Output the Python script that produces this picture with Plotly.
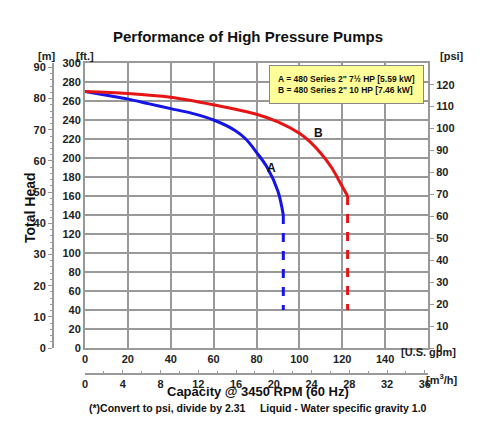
import plotly.graph_objects as go

# Pump curves: capacity [U.S. gpm] vs total head [ft.]
gpm_a = [0, 10, 20, 30, 40, 50, 60, 70, 75, 80, 85, 90, 92.5]
head_a = [270, 266, 262, 257, 252, 247, 240, 229, 220, 206, 190, 165, 140]
gpm_b = [0, 20, 40, 60, 80, 90, 100, 105, 110, 115, 120, 122.5]
head_b = [270, 268, 264, 256, 246, 238, 226, 217, 205, 190, 170, 160]
dash_a = [[92.5, 92.5], [140, 40]]
dash_b = [[122.5, 122.5], [160, 40]]

ft_ticks = list(range(0, 301, 20))
m_ticks = list(range(0, 91, 10))
psi_ticks = list(range(0, 131, 10))
gpm_ticks = list(range(0, 141, 20))
m3h_ticks = list(range(0, 37, 4))

BLUE = 'rgb(20, 20, 230)'
RED = 'rgb(230, 20, 20)'
FONT = 'Liberation Sans'
bold = dict(family=FONT, size=11, color='#222', weight='bold')

# plot region in pixels: x 30..420, y 55..372
L, R, T, B = 30, 420, 55, 372


def px(x):
    return (x - L) / (R - L)


def py(y):
    return (B - y) / (B - T)


fig = go.Figure()
fig.add_trace(go.Scatter(x=gpm_a, y=head_a, mode='lines', line=dict(color=BLUE, width=3, shape='spline')))
fig.add_trace(go.Scatter(x=gpm_b, y=head_b, mode='lines', line=dict(color=RED, width=3, shape='spline')))
fig.add_trace(go.Scatter(x=dash_a[0], y=dash_a[1], mode='lines', line=dict(color=BLUE, width=3, dash='dash')))
fig.add_trace(go.Scatter(x=dash_b[0], y=dash_b[1], mode='lines', line=dict(color=RED, width=3, dash='dash')))
# invisible traces to attach secondary axes
fig.add_trace(go.Scatter(x=[0], y=[0], yaxis='y2', mode='markers', marker=dict(opacity=0), hoverinfo='skip'))
fig.add_trace(go.Scatter(x=[0], y=[0], yaxis='y3', mode='markers', marker=dict(opacity=0), hoverinfo='skip'))
fig.add_trace(go.Scatter(x=[0], y=[0], xaxis='x2', mode='markers', marker=dict(opacity=0), hoverinfo='skip'))

axcol = '#999'
xdom = [px(77), 1]
fig.update_layout(
    width=480, height=426, showlegend=False,
    paper_bgcolor='white', plot_bgcolor='white',
    margin=dict(l=L, r=480 - R, t=T, b=426 - B, autoexpand=False),
    font=dict(family=FONT),
    xaxis=dict(domain=xdom, range=[0, 160], tickvals=gpm_ticks, tickfont=bold, automargin=False,
               showgrid=True, gridcolor=axcol, gridwidth=1.5, showline=True, linecolor=axcol, linewidth=2,
               mirror=True, ticks='', zeroline=False),
    yaxis=dict(domain=[py(340), 1], range=[0, 300], tickvals=ft_ticks, tickfont=bold, automargin=False,
               showgrid=True, gridcolor=axcol, gridwidth=1.5, showline=True, linecolor=axcol, linewidth=2,
               mirror=True, ticks='', zeroline=False),
    yaxis2=dict(overlaying='y', anchor='free', position=px(45), side='left', automargin=False,
                range=[0, 300 / 3.281], tickvals=m_ticks, tickfont=bold, showgrid=False,
                showline=True, linecolor=axcol, linewidth=2, ticks='outside', ticklen=4, tickcolor=axcol,
                minor=dict(dtick=2, ticks='outside', ticklen=2, tickcolor=axcol), zeroline=False),
    yaxis3=dict(overlaying='y', side='right', anchor='x', range=[0, 300 / 2.31], tickvals=psi_ticks,
                automargin=False, tickfont=bold, showgrid=False, ticks='outside', ticklen=5,
                tickcolor=axcol, zeroline=False),
    xaxis2=dict(overlaying='x', anchor='free', position=py(366), side='bottom', domain=xdom,
                automargin=False, range=[0, 160 / 4.4029], tickvals=m3h_ticks, tickfont=bold,
                showgrid=False, showline=True, linecolor=axcol, linewidth=2, ticks='inside', ticklen=3,
                tickcolor=axcol, minor=dict(dtick=2, ticks='inside', ticklen=2, tickcolor=axcol),
                zeroline=False),
)


def label(txt, x, y, **kw):
    opts = dict(text=txt, x=px(x), y=py(y), xref='paper', yref='paper', showarrow=False, font=bold)
    opts.update(kw)
    fig.add_annotation(**opts)


label('Performance of High Pressure Pumps', 240, 18,
      font=dict(family=FONT, size=15, color='#111', weight='bold'))
label('[m]', 28, 40)
label('[ft.]', 66, 40)
label('[psi]', 458, 40)
label('[U.S. gpm]', 450, 352)
label('[m<sup>3</sup>/h]', 452, 380)
label('Total Head', 12, 200, textangle=-90, font=dict(family=FONT, size=14, color='#111', weight='bold'))
label('Capacity @ 3450 RPM (60 Hz)', 250, 393, font=dict(family=FONT, size=13, color='#111', weight='bold'))
label('(*)Convert to psi, divide by 2.31     Liquid - Water specific gravity 1.0', 250, 408,
      font=dict(family=FONT, size=10.5, color='#111', weight='bold'))

fig.add_annotation(text='A', x=87, y=190, xref='x', yref='y', showarrow=False,
                   font=dict(family=FONT, size=12, color='#111', weight='bold'))
fig.add_annotation(text='B', x=109, y=226, xref='x', yref='y', showarrow=False,
                   font=dict(family=FONT, size=12, color='#111', weight='bold'))
fig.add_annotation(text='A = 480 Series 2" 7½ HP [5.59 kW]<br>B = 480 Series 2" 10 HP [7.46 kW]',
                   x=158, y=298, xref='x', yref='y', xanchor='right', yanchor='top', align='left',
                   showarrow=False, bgcolor='rgb(255, 255, 153)', bordercolor='#888', borderwidth=1,
                   borderpad=8, font=dict(family=FONT, size=8.5, color='#111', weight='bold'))

fig.write_html("out.html")
